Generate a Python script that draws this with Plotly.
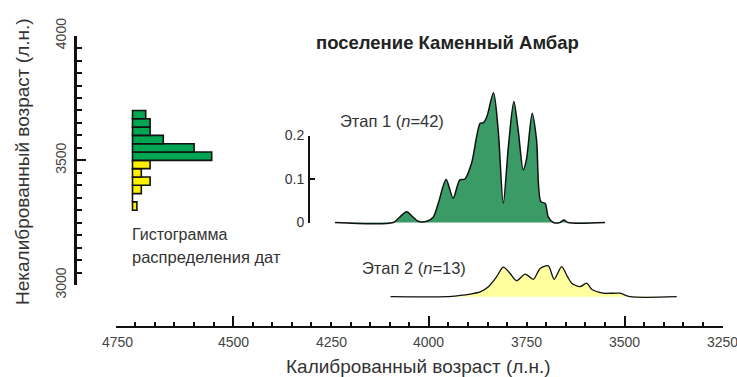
import numpy as np
import plotly.graph_objects as go

# ---------------- data ----------------
# Histogram of uncalibrated dates (bins between 3300 and 3700 BP, 12 bins)
hist_edges = np.linspace(3300, 3700, 13)
hist_yellow_counts = [1, 0, 2, 4, 2, 4]        # 3300-3500 (Stage 2)
hist_green_counts = [18, 14, 7, 4, 4, 3]       # 3500-3700 (Stage 1)

# Summed calibrated probability, Stage 1
stage1_years = [4240, 4091, 4075, 4057, 4040, 4028, 4005, 3989, 3976, 3956, 3938,
                3921, 3908, 3891, 3869, 3861, 3852, 3835, 3823, 3810, 3797, 3783,
                3772, 3759, 3751, 3736, 3725, 3714, 3703, 3695, 3682, 3665, 3655,
                3645, 3550]
stage1_prob = [0, 0, 0.012, 0.025, 0.012, 0.003, 0.003, 0.012, 0.044, 0.099, 0.056,
               0.098, 0.100, 0.136, 0.228, 0.229, 0.243, 0.298, 0.213, 0.044, 0.174,
               0.278, 0.213, 0.121, 0.144, 0.251, 0.190, 0.048, 0.044, 0.013, 0, 0,
               0.006, 0, 0]

# Summed calibrated probability, Stage 2
stage2_years = [4098, 3955, 3920, 3895, 3869, 3848, 3827, 3810, 3793, 3776, 3754,
                3733, 3716, 3695, 3680, 3661, 3646, 3635, 3614, 3597, 3584, 3555,
                3512, 3486, 3367]
stage2_prob = [0, 0, 0.003, 0.006, 0.011, 0.023, 0.046, 0.068, 0.054, 0.037, 0.052,
               0.040, 0.065, 0.071, 0.040, 0.069, 0.046, 0.031, 0.023, 0.031, 0.017,
               0.008, 0.008, 0, 0]

x_tick_vals = [4750, 4500, 4250, 4000, 3750, 3500, 3250]
x_tick_text = ["4750", "4500", "4250", "4000", "3750", "3500", "3250"]
x_major_vals = [4500, 4000, 3500]
y_tick_vals = [3000, 3500, 4000]
y_tick_text = ["3000", "3500", "4000"]
p_tick_vals = [0, 0.1, 0.2]
p_tick_text = ["0", "0.1", "0.2"]

title_text = "поселение Каменный Амбар"
x_title = "Калиброванный возраст (л.н.)"
y_title = "Некалиброванный возраст (л.н.)"
stage1_label = "Этап 1 (<i>n</i>=42)"
stage2_label = "Этап 2 (<i>n</i>=13)"
hist_label = ["Гистограмма", "распределения дат"]

# ---------------- geometry helpers (pixels -> paper) ----------------
W, H = 737, 377
def px(x):
    return x / W
def py(y):
    return 1 - y / H

FONT = "Liberation Sans, Arial, sans-serif"
GREEN_H = "#00A651"
YELLOW_H = "#FFF200"
GREEN_C = "#3A9B67"
YELLOW_C = "#FFFF9E"
TICK_FS = 14
INK = "#111"

edges = np.asarray(hist_edges)
centers = (edges[:-1] + edges[1:]) / 2
bw = edges[1] - edges[0]

fig = go.Figure()

# histogram bars (horizontal, counts on hidden axis x2)
fig.add_trace(go.Bar(
    orientation="h", y=centers[:6], x=hist_yellow_counts, width=bw,
    marker=dict(color=YELLOW_H, line=dict(color=INK, width=1.6)),
    xaxis="x2", yaxis="y", showlegend=False, hoverinfo="skip"))
fig.add_trace(go.Bar(
    orientation="h", y=centers[6:], x=hist_green_counts, width=bw,
    marker=dict(color=GREEN_H, line=dict(color=INK, width=1.6)),
    xaxis="x2", yaxis="y", showlegend=False, hoverinfo="skip"))

# Stage 1 curve
fig.add_trace(go.Scatter(
    x=stage1_years, y=stage1_prob, mode="lines", fill="tozeroy",
    fillcolor=GREEN_C, line=dict(color=INK, width=1.5, shape="spline", smoothing=0.8),
    xaxis="x", yaxis="y3", showlegend=False, hoverinfo="skip"))
# Stage 2 curve
fig.add_trace(go.Scatter(
    x=stage2_years, y=stage2_prob, mode="lines", fill="tozeroy",
    fillcolor=YELLOW_C, line=dict(color=INK, width=1.3, shape="spline", smoothing=0.8),
    xaxis="x", yaxis="y4", showlegend=False, hoverinfo="skip"))
# empty traces that activate the anchoring subplots of the visible axes
for xa, ya in [("x3", "y"), ("x4", "y2"), ("x", "y5"), ("x5", "y5"), ("x3", "y6")]:
    fig.add_trace(go.Scatter(x=[], y=[], xaxis=xa, yaxis=ya, showlegend=False,
                             hoverinfo="skip"))

x_dom = [px(115.7), px(722.5)]
y_dom = [py(285), py(35.7)]
px_per_count = 4.4
zero_px = 132.5

common = dict(showgrid=False, zeroline=False, automargin=False)
hidden = dict(visible=False, showgrid=False, zeroline=False, automargin=False)

fig.update_layout(
    template="none",
    width=W, height=H, autosize=False,
    margin=dict(l=0, r=0, t=0, b=0, pad=0, autoexpand=False),
    paper_bgcolor="white", plot_bgcolor="rgba(0,0,0,0)",
    font=dict(family=FONT, color="#333"),
    barmode="overlay", showlegend=False,
    # calibrated-age axis (bottom), anchored to hidden y5 whose bottom is the axis line
    xaxis=dict(
        domain=x_dom, range=[4800, 3250], anchor="y5", side="bottom",
        showline=True, linewidth=2, linecolor=INK,
        ticks="inside", tickvals=list(range(3250, 4801, 50)), ticklen=4,
        tickwidth=1.5, tickcolor=INK, showticklabels=False,
        **common,
    ),
    xaxis5=dict(
        domain=x_dom, range=[4800, 3250], anchor="y5", side="bottom",
        showline=False, ticks="inside", tickvals=x_major_vals,
        ticklen=10, tickwidth=1.5, tickcolor=INK, showticklabels=False,
        **common,
    ),
    yaxis5=dict(domain=[py(325.7), 1], range=[0, 1], **hidden),
    # histogram count axis (hidden)
    xaxis2=dict(
        domain=x_dom,
        range=[-(zero_px - 115.7) / px_per_count, (722.5 - zero_px) / px_per_count],
        anchor="y", **hidden,
    ),
    # uncalibrated-age axis, anchored on hidden x3 whose left edge is the axis line
    xaxis3=dict(domain=[px(76.7), 1], range=[0, 1], anchor="y", **hidden),
    yaxis=dict(
        domain=y_dom, range=[3000, 4000], anchor="x3", side="left",
        showline=True, linewidth=2.5, linecolor=INK,
        ticks="inside", tickvals=y_tick_vals, ticktext=y_tick_text, ticklen=10,
        tickwidth=1.6, tickcolor=INK, tickangle=-90,
        tickfont=dict(size=TICK_FS, color="#444"), ticklabelstandoff=2,
        **common,
    ),
    # minor-tick ruler for the uncalibrated axis
    yaxis6=dict(
        domain=y_dom, range=[3000, 4000], anchor="x3", side="left", overlaying="y",
        showline=False, ticks="inside", tickvals=list(range(3000, 4001, 50)),
        ticklen=5, tickwidth=1.5, tickcolor=INK, showticklabels=False,
        **common,
    ),
    # probability axis for stage 1, anchored on hidden x4
    xaxis4=dict(domain=[px(310), 1], range=[0, 1], anchor="y2", **hidden),
    yaxis2=dict(
        domain=[py(222.5), py(135.5)], range=[0, 0.2], anchor="x4", side="left",
        showline=True, linewidth=2, linecolor=INK,
        ticks="inside", tickvals=p_tick_vals, ticktext=p_tick_text, ticklen=5,
        tickwidth=1.5, tickcolor=INK, tickfont=dict(size=TICK_FS, color="#333"),
        ticklabelstandoff=1,
        **common,
    ),
    yaxis3=dict(
        domain=[py(222.5 + 4.35), py(80)], range=[-0.01, (222.5 - 80) / 435],
        anchor="x", **hidden,
    ),
    yaxis4=dict(
        domain=[py(296.7 + 4.35), py(250)], range=[-0.01, (296.7 - 250) / 435],
        anchor="x", **hidden,
    ),
)

ann = []
# x tick labels
for i, (v, t) in enumerate(zip(x_tick_vals, x_tick_text)):
    ann.append(dict(x=v, y=py(342), xref="x", yref="paper", text=t, showarrow=False,
                    xanchor="center", yanchor="middle", xshift=-18 if i == 0 else 0,
                    font=dict(size=TICK_FS, color="#444")))
ann += [
    dict(x=px(418), y=py(366), xref="paper", yref="paper", text=x_title, showarrow=False,
         xanchor="center", yanchor="middle", font=dict(size=19, color="#333")),
    dict(x=px(22), y=py(162), xref="paper", yref="paper", text=y_title, showarrow=False,
         textangle=-90, xanchor="center", yanchor="middle", font=dict(size=19, color="#333")),
    dict(x=px(447), y=py(42), xref="paper", yref="paper", text="<b>" + title_text + "</b>",
         showarrow=False, xanchor="center", yanchor="middle", font=dict(size=18.5, color="#222")),
    dict(x=px(338), y=py(121), xref="paper", yref="paper", text=stage1_label, showarrow=False,
         xanchor="left", yanchor="middle", font=dict(size=16.5, color="#333")),
    dict(x=px(360), y=py(268), xref="paper", yref="paper", text=stage2_label, showarrow=False,
         xanchor="left", yanchor="middle", font=dict(size=16.5, color="#333")),
    dict(x=px(130), y=py(235), xref="paper", yref="paper", text=hist_label[0], showarrow=False,
         xanchor="left", yanchor="middle", font=dict(size=16, color="#333")),
    dict(x=px(130), y=py(257), xref="paper", yref="paper", text=hist_label[1], showarrow=False,
         xanchor="left", yanchor="middle", font=dict(size=16.5, color="#333")),
]
fig.update_layout(annotations=ann)

fig.write_html("out.html")
